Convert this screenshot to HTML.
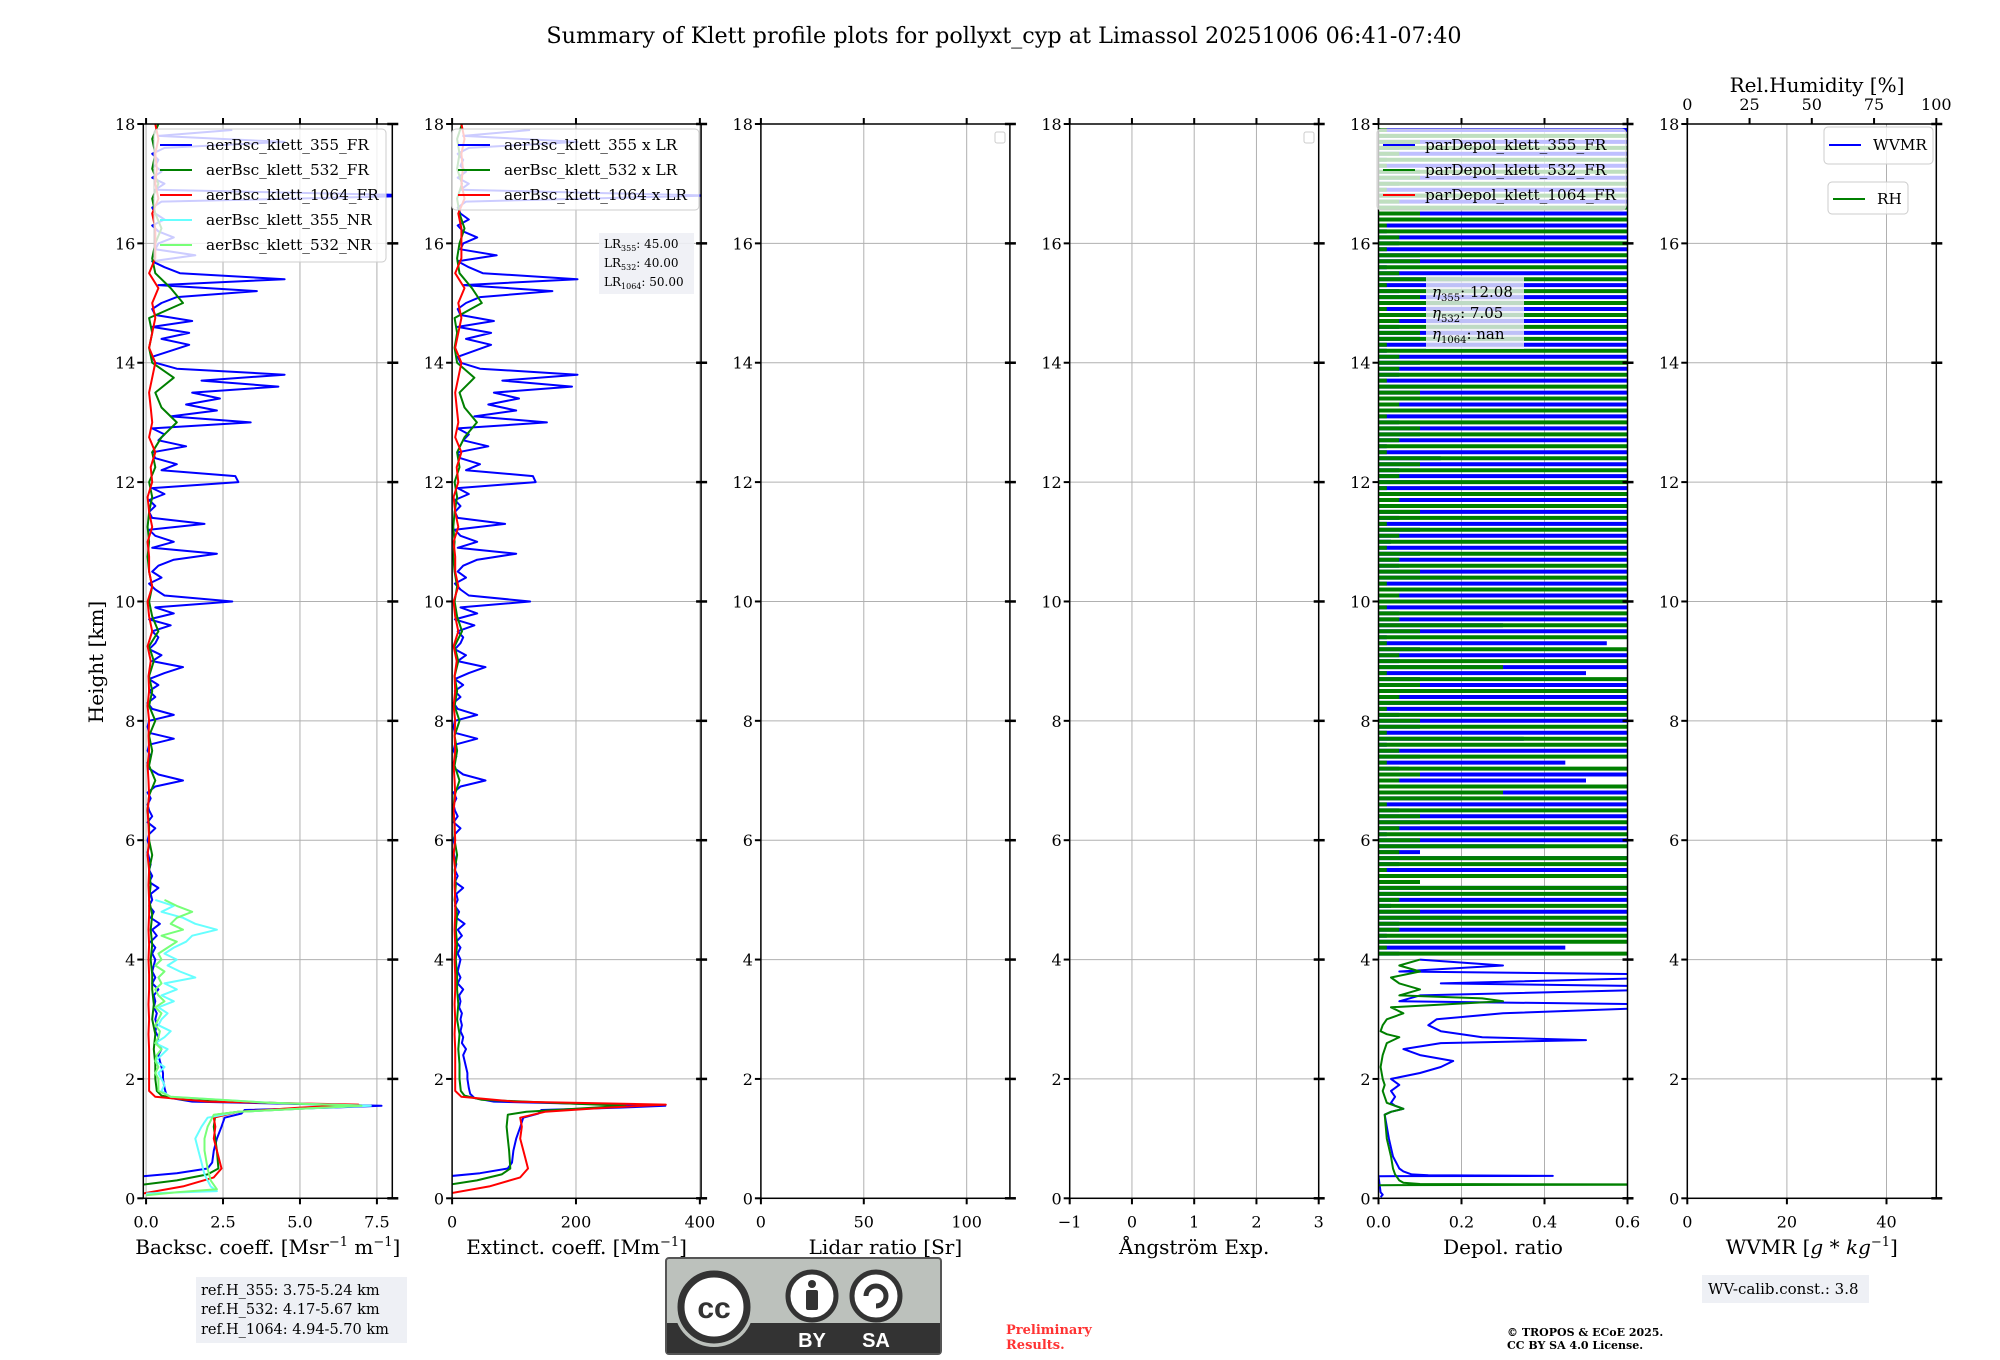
<!DOCTYPE html>
<html><head><meta charset="utf-8"><title>Klett profile summary</title>
<style>
html,body{margin:0;padding:0;background:#fff;}
svg{display:block;font-family:"DejaVu Serif","Liberation Serif",serif;}
</style></head>
<body>
<svg id="fig" width="2000" height="1360" viewBox="0 0 2000 1360" xmlns="http://www.w3.org/2000/svg">
<rect x="0" y="0" width="2000" height="1360" fill="#fff"/>
<text x="1004" y="43" font-size="22.3" text-anchor="middle">Summary of Klett profile plots for pollyxt_cyp at Limassol 20251006 06:41-07:40</text>
<text transform="translate(103,662) rotate(-90)" font-size="20" text-anchor="middle">Height [km]</text>
<g id="panels"></g>
<g id="overlay">
 <g>
  <rect x="154" y="129" width="232" height="133" rx="4" fill="#fff" fill-opacity="0.8" stroke="#ccc"/>
  <line x1="160" y1="145" x2="192" y2="145" stroke="#0000ff" stroke-width="2"/>
  <text x="206" y="150" font-size="15.3">aerBsc_klett_355_FR</text>
  <line x1="160" y1="170" x2="192" y2="170" stroke="#008000" stroke-width="2"/>
  <text x="206" y="175" font-size="15.3">aerBsc_klett_532_FR</text>
  <line x1="160" y1="195" x2="192" y2="195" stroke="#ff0000" stroke-width="2"/>
  <text x="206" y="200" font-size="15.3">aerBsc_klett_1064_FR</text>
  <line x1="160" y1="220" x2="192" y2="220" stroke="#66ffff" stroke-width="2"/>
  <text x="206" y="225" font-size="15.3">aerBsc_klett_355_NR</text>
  <line x1="160" y1="245" x2="192" y2="245" stroke="#77ff77" stroke-width="2"/>
  <text x="206" y="250" font-size="15.3">aerBsc_klett_532_NR</text>
 </g>
 <g>
  <rect x="452" y="129" width="247" height="81" rx="4" fill="#fff" fill-opacity="0.8" stroke="#ccc"/>
  <line x1="458" y1="145" x2="490" y2="145" stroke="#0000ff" stroke-width="2"/>
  <text x="504" y="150" font-size="15.3">aerBsc_klett_355 x LR</text>
  <line x1="458" y1="170" x2="490" y2="170" stroke="#008000" stroke-width="2"/>
  <text x="504" y="175" font-size="15.3">aerBsc_klett_532 x LR</text>
  <line x1="458" y1="195" x2="490" y2="195" stroke="#ff0000" stroke-width="2"/>
  <text x="504" y="200" font-size="15.3">aerBsc_klett_1064 x LR</text>
 </g>
 <g>
  <rect x="599" y="233" width="95" height="61" fill="#eef0f5" fill-opacity="0.9"/>
  <text x="604" y="248" font-size="12">LR<tspan font-size="8" dy="3">355</tspan><tspan dy="-3">: 45.00</tspan></text>
  <text x="604" y="267" font-size="12">LR<tspan font-size="8" dy="3">532</tspan><tspan dy="-3">: 40.00</tspan></text>
  <text x="604" y="286" font-size="12">LR<tspan font-size="8" dy="3">1064</tspan><tspan dy="-3">: 50.00</tspan></text>
 </g>
 <rect x="995" y="132" width="10" height="11" rx="2" fill="#fff" stroke="#ccc"/>
 <rect x="1304" y="132" width="10" height="11" rx="2" fill="#fff" stroke="#ccc"/>
 <g>
  <rect x="1377" y="129" width="249" height="81" rx="4" fill="#fff" fill-opacity="0.75" stroke="#ccc"/>
  <line x1="1383" y1="145" x2="1415" y2="145" stroke="#0000ff" stroke-width="2"/>
  <text x="1425" y="150" font-size="15.3">parDepol_klett_355_FR</text>
  <line x1="1383" y1="170" x2="1415" y2="170" stroke="#008000" stroke-width="2"/>
  <text x="1425" y="175" font-size="15.3">parDepol_klett_532_FR</text>
  <line x1="1383" y1="195" x2="1415" y2="195" stroke="#ff0000" stroke-width="2"/>
  <text x="1425" y="200" font-size="15.3">parDepol_klett_1064_FR</text>
 </g>
 <g>
  <rect x="1426" y="276" width="98" height="73" fill="#eef0f5" fill-opacity="0.8"/>
  <text x="1432" y="297" font-size="15"><tspan font-style="italic">η</tspan><tspan font-size="10" dy="4">355</tspan><tspan dy="-4">: 12.08</tspan></text>
  <text x="1432" y="318" font-size="15"><tspan font-style="italic">η</tspan><tspan font-size="10" dy="4">532</tspan><tspan dy="-4">: 7.05</tspan></text>
  <text x="1432" y="339" font-size="15"><tspan font-style="italic">η</tspan><tspan font-size="10" dy="4">1064</tspan><tspan dy="-4">: nan</tspan></text>
 </g>
 <g>
  <rect x="1824" y="127" width="109" height="37" rx="4" fill="#fff" fill-opacity="0.8" stroke="#ccc"/>
  <line x1="1829" y1="145" x2="1861" y2="145" stroke="#0000ff" stroke-width="2"/>
  <text x="1873" y="150" font-size="15.3">WVMR</text>
 </g>
 <g>
  <rect x="1828" y="182" width="80" height="32" rx="4" fill="#fff" fill-opacity="0.8" stroke="#ccc"/>
  <line x1="1833" y1="199" x2="1865" y2="199" stroke="#008000" stroke-width="2"/>
  <text x="1877" y="204" font-size="15.3">RH</text>
 </g>
 <text x="1817" y="92" font-size="20" text-anchor="middle">Rel.Humidity [%]</text>
 <g>
  <rect x="196" y="1277" width="211" height="66" fill="#eef0f5"/>
  <text x="201" y="1295" font-size="14.5">ref.H_355: 3.75-5.24 km</text>
  <text x="201" y="1314" font-size="14.5">ref.H_532: 4.17-5.67 km</text>
  <text x="201" y="1334" font-size="14.5">ref.H_1064: 4.94-5.70 km</text>
 </g>
 <g>
  <rect x="666" y="1258" width="275" height="96" rx="3" fill="#bcc1bc" stroke="#555" stroke-width="2"/>
  <rect x="667" y="1323" width="273" height="30" fill="#333"/>
  <circle cx="714" cy="1307" r="40" fill="#bcc1bc"/>
  <circle cx="714" cy="1307" r="33" fill="#fff" stroke="#333" stroke-width="7"/>
  <text x="714" y="1318" font-size="30" font-weight="bold" text-anchor="middle" fill="#333" font-family="Liberation Sans, sans-serif">cc</text>
  <circle cx="812" cy="1296" r="24" fill="#fff" stroke="#333" stroke-width="5"/>
  <circle cx="812" cy="1284" r="4" fill="#333"/>
  <rect x="806" y="1290" width="12" height="20" rx="2" fill="#333"/>
  <circle cx="876" cy="1296" r="24" fill="#fff" stroke="#333" stroke-width="5"/>
  <path d="M866,1296 A10,10 0 1 1 876,1306" fill="none" stroke="#333" stroke-width="5"/>
  <text x="812" y="1347" font-size="20" font-weight="bold" text-anchor="middle" fill="#fff" font-family="Liberation Sans, sans-serif">BY</text>
  <text x="876" y="1347" font-size="20" font-weight="bold" text-anchor="middle" fill="#fff" font-family="Liberation Sans, sans-serif">SA</text>
 </g>
 <text x="1006" y="1334" font-size="13" font-weight="bold" fill="#ff3333">Preliminary</text>
 <text x="1006" y="1349" font-size="13" font-weight="bold" fill="#ff3333">Results.</text>
 <g>
  <rect x="1702" y="1275" width="167" height="28" fill="#eef0f5"/>
  <text x="1708" y="1294" font-size="15">WV-calib.const.: 3.8</text>
 </g>
 <text x="1507" y="1336" font-size="11" font-weight="bold">© TROPOS &amp; ECoE 2025.</text>
 <text x="1507" y="1349" font-size="11" font-weight="bold">CC BY SA 4.0 License.</text>
</g>
</svg>
<script>
// ---------- data ----------
const lidarRatio355 = 45, lidarRatio532 = 40, lidarRatio1064 = 50;
const bsc355LowH = [0.37,0.42,0.5,0.6,0.8,1.0,1.2,1.35,1.42,1.48,1.52,1.55,1.58,1.62,1.68,1.75,1.85,2.0];
const bsc355LowV = [-0.1,1.0,2.0,2.15,2.2,2.3,2.45,2.55,3.1,3.2,6.0,7.65,5.0,1.5,0.8,0.65,0.6,0.55];
const bsc355High = [
0.55,0.5,0.45,0.4,0.5,0.35,0.4,0.3,0.35,0.3,
0.35,0.25,0.3,0.25,0.4,0.2,0.3,0.2,0.25,0.3,
0.2,0.3,0.15,0.35,0.2,0.45,0.15,0.25,0.1,0.2,
0.15,0.4,0.1,0.2,0.1,0.15,0.1,0.05,0.1,0.05,
0.1,0.3,0.05,0.2,0.1,0.05,0.15,0.05,0.3,1.2,
0.4,0.1,0.05,0.15,0.05,0.1,0.9,0.1,0.05,0.1,
0.9,0.2,0.05,0.3,0.1,0.4,0.1,0.6,1.2,0.2,
0.5,0.1,0.3,0.4,0.2,0.8,0.1,0.9,0.3,2.8,
0.6,0.3,0.1,0.5,0.2,0.4,0.9,2.3,0.2,0.9,
0.3,0.1,1.9,0.2,0.1,0.3,0.1,0.6,0.2,3.0,
2.9,0.5,1.0,0.3,0.2,1.3,0.4,0.6,0.2,3.4,
0.8,2.3,1.3,2.4,1.5,4.3,1.8,4.5,1.0,0.3,
0.2,0.8,1.4,0.5,1.4,0.2,1.5,0.3,0.2,0.5,
1.0,3.6,0.4,4.5,1.1,0.6,0.2,1.6,0.3,0.4,
0.9,0.4,0.2,0.6,0.3,0.2,0.5,9.2,0.3,0.6,
0.2,0.5,0.3,0.4,0.2,0.6,4.5,0.4,2.8,0.3];
const bsc532LowH = [0.23,0.3,0.4,0.5,0.8,1.0,1.2,1.4,1.45,1.5,1.55,1.6,1.65,1.72,1.8,2.0];
const bsc532LowV = [-0.1,1.0,2.0,2.35,2.3,2.25,2.2,2.25,3.0,5.0,7.0,4.0,1.2,0.5,0.35,0.3];
const bsc532High = [0.3,0.25,0.3,0.2,0.25,0.2,0.2,0.15, 0.2,0.15,0.2,0.1,0.15,0.1,0.2,0.1, 0.1,0.05,0.1,0.3,0.1,0.2,0.1,0.3,
 0.1,0.2,0.1,0.25,0.1,0.4,0.2,0.1, 0.2,0.1,0.05,0.1,0.05,0.1,0.2,0.1, 0.3,0.2,0.5,1.0,0.5,0.3,0.9,0.2,
 0.1,0.2,0.1,1.2,0.8,0.3,0.2,0.3, 0.5,0.3,0.2,0.4,0.2,0.3,0.2,0.4];
const bsc1064LowH = [0.08,0.2,0.35,0.5,0.7,1.0,1.2,1.35,1.45,1.52,1.57,1.62,1.7,1.8,2.0];
const bsc1064LowV = [-0.1,1.2,2.2,2.45,2.35,2.2,2.25,2.2,3.0,5.0,6.9,2.0,0.3,0.1,0.1];
const bsc1064High = [0.1,0.1,0.08,0.1,0.08,0.1,0.1,0.08, 0.1,0.08,0.1,0.1,0.08,0.1,0.05,0.1, 0.08,0.05,0.1,0.08,0.05,0.1,0.08,0.1,
 0.05,0.1,0.08,0.15,0.05,0.2,0.1,0.05, 0.2,0.1,0.1,0.05,0.2,0.1,0.05,0.2, 0.15,0.3,0.1,0.2,0.15,0.1,0.2,0.3,
 0.1,0.2,0.3,0.2,0.4,0.1,0.3,0.3, 0.3,0.2,0.4,0.3,0.35,0.3,0.4,0.3];
const bsc355NRLowH = [0.08,0.12,0.2,0.3,0.4,0.6,0.8,1.0,1.2,1.35,1.45,1.5,1.55,1.6,1.7,1.8,1.9,2.0];
const bsc355NRLowV = [0.0,2.3,2.1,2.0,1.9,1.8,1.7,1.6,1.8,2.0,3.0,5.0,7.3,4.0,0.8,0.5,0.6,0.5];
const bsc355NRHigh = [0.4,0.6,0.3,0.5,0.7,0.3,0.6,0.8,0.4,0.5, 0.7,0.4,0.9,0.5,1.0,0.6,1.6,1.1,0.7,1.0, 0.6,0.9,1.3,1.5,2.3,1.6,1.2,0.5,0.9,0.3];
const bsc532NRLowH = [0.05,0.1,0.15,0.3,0.5,0.8,1.0,1.2,1.3,1.4,1.45,1.5,1.55,1.6,1.7,1.8,2.0];
const bsc532NRLowV = [0.0,1.0,2.3,2.1,2.0,1.9,1.9,2.0,2.1,2.2,3.0,5.0,7.0,4.0,0.8,0.4,0.4];
const bsc532NRHigh = [0.3,0.4,0.3,0.35,0.5,0.3,0.4,0.45,0.3,0.4, 0.5,0.3,0.6,0.4,0.3,0.5,0.4,0.6,0.3,0.5, 0.4,0.7,1.0,0.5,1.2,0.8,1.0,1.5,1.0,0.6];
const dp355LowH = [0.02,0.06,0.1,0.37,0.375,0.385,0.4,0.45,0.5,0.7,1.0,1.4,1.45,1.5,1.55,1.6,1.7,1.8,1.9,2.0,2.1,2.2,2.3,2.4,2.5,2.6,2.65,2.7,2.8,2.9,3.0,3.1,3.2,3.25,3.3,3.4,3.5,3.55,3.6,3.7,3.75,3.8,3.9,4.0];
const dp355LowV = [0.005,0.01,0.005,0.0,0.42,0.12,0.08,0.06,0.05,0.035,0.025,0.015,0.03,0.06,0.04,0.03,0.04,0.03,0.05,0.03,0.1,0.15,0.18,0.1,0.06,0.15,0.5,0.25,0.15,0.12,0.14,0.3,0.7,0.65,0.05,0.1,0.7,0.7,0.15,0.7,0.7,0.05,0.3,0.1];
const dp355High = [
0.05,0.45,0.1,0.02,0.7,0.05,0.2,0.7,0.03,0.6, 0.1,0.7,0.02,0.3,0.8,0.05,0.7,0.1,0.4,0.8,
0.02,0.7,0.1,0.8,0.05,0.6,0.2,0.75,0.02,0.5, 0.7,0.05,0.45,0.1,0.8,0.02,0.35,0.7,0.1,0.8,
0.05,0.7,0.2,0.6,0.02,0.8,0.1,0.5,0.75,0.05, 0.7,0.1,0.55,0.02,0.8,0.3,0.7,0.05,0.6,0.1,
0.8,0.02,0.7,0.2,0.75,0.05,0.6,0.1,0.8,0.03, 0.7,0.1,0.8,0.05,0.65,0.2,0.8,0.02,0.7,0.1,
0.8,0.05,0.7,0.15,0.8,0.02,0.75,0.1,0.7,0.05, 0.8,0.1,0.7,0.02,0.8,0.2,0.7,0.05,0.8,0.1,
0.75,0.02,0.8,0.1,0.7,0.05,0.8,0.02,0.7,0.1, 0.8,0.05,0.7,0.2,0.8,0.02,0.7,0.1,0.8,0.05,
0.7,0.02,0.8,0.1,0.75,0.05,0.8,0.2,0.7,0.05, 0.8,0.1,0.7,0.02,0.8,0.05,0.75,0.1,0.8,0.05];
const dp532LowH = [0.2,0.22,0.23,0.24,0.26,0.3,0.4,0.5,0.7,1.0,1.4,1.45,1.5,1.55,1.6,1.7,1.8,1.9,2.0,2.2,2.4,2.6,2.7,2.75,2.8,2.9,3.0,3.1,3.2,3.3,3.35,3.4,3.5,3.6,3.7,3.8,3.9,4.0];
const dp532LowV = [0.0,0.0,0.8,0.1,0.06,0.05,0.04,0.035,0.03,0.02,0.015,0.03,0.06,0.04,0.02,0.015,0.01,0.015,0.01,0.005,0.01,0.02,0.05,0.02,0.005,0.01,0.02,0.06,0.03,0.3,0.25,0.05,0.1,0.05,0.03,0.1,0.05,0.1];
const dp532High = [
0.7,0.02,0.8,0.6,0.05,0.8,0.7,0.1,0.8,0.05, 0.75,0.6,0.1,0.8,0.02,0.7,0.8,0.05,0.7,0.1,
0.8,0.05,0.75,0.1,0.8,0.02,0.7,0.3,0.8,0.05, 0.1,0.8,0.02,0.7,0.05,0.8,0.7,0.02,0.8,0.1,
0.8,0.02,0.7,0.05,0.8,0.1,0.7,0.02,0.3,0.8, 0.05,0.8,0.02,0.7,0.1,0.8,0.05,0.7,0.02,0.8,
0.05,0.8,0.02,0.75,0.1,0.8,0.05,0.7,0.02,0.8, 0.05,0.7,0.02,0.8,0.1,0.7,0.05,0.8,0.02,0.7,
0.05,0.8,0.1,0.7,0.02,0.8,0.05,0.7,0.1,0.8, 0.02,0.7,0.05,0.8,0.1,0.7,0.02,0.8,0.05,0.7,
0.05,0.7,0.02,0.8,0.1,0.7,0.05,0.8,0.02,0.7, 0.1,0.8,0.02,0.7,0.05,0.8,0.1,0.7,0.02,0.8,
0.05,0.7,0.02,0.8,0.1,0.7,0.05,0.8,0.02,0.7, 0.1,0.8,0.02,0.7,0.05,0.8,0.1,0.7,0.02,0.8];
const heightTicks = [0,2,4,6,8,10,12,14,16,18];
const bscTicks = ['0.0','2.5','5.0','7.5'];
const extTicks = ['0','200','400'];
const lrTicks = ['0','50','100'];
const aeTicks = ['−1','0','1','2','3'];
const dpTicks = ['0.0','0.2','0.4','0.6'];
const wvTicks = ['0','20','40'];
const rhTicks = ['0','25','50','75','100'];

// ---------- helpers ----------
const NS = 'http://www.w3.org/2000/svg';
const L0 = 143.3, DX = 308.8, PW = 249, YT = 124, YB = 1198.3, HMAX = 18;
function add(parent, tag, attrs, name) {
  const el = document.createElementNS(NS, tag);
  for (const k in attrs) el.setAttribute(k, attrs[k]);
  
  
  parent.appendChild(el);
  return el;
}
function yOf(h) { return YB - h / HMAX * (YB - YT); }
function grid(start, step, n) { const a = []; for (let i = 0; i < n; i++) a.push(+(start + step * i).toFixed(2)); return a; }
const hHigh01 = grid(2.1, 0.1, 159);
const hHigh025 = grid(2.25, 0.25, 64);
const hNR01 = grid(2.1, 0.1, 30);
const hDp01 = grid(4.1, 0.1, 139);

const panels = [
  {name:'backscatter', xmin:-0.09, xmax:8.0, ticks:[0,2.5,5,7.5], labels:bscTicks, title:'Backsc. coeff. [Msr<tspan dy="-8" font-size="13">−1</tspan><tspan dy="8"> m</tspan><tspan dy="-8" font-size="13">−1</tspan><tspan dy="8">]</tspan>'},
  {name:'extinction', xmin:0, xmax:402, ticks:[0,200,400], labels:extTicks, title:'Extinct. coeff. [Mm<tspan dy="-8" font-size="13">−1</tspan><tspan dy="8">]</tspan>'},
  {name:'lidar-ratio', xmin:0, xmax:121, ticks:[0,50,100], labels:lrTicks, title:'Lidar ratio [Sr]'},
  {name:'angstrom', xmin:-1, xmax:3, ticks:[-1,0,1,2,3], labels:aeTicks, title:'Ångström Exp.'},
  {name:'depol', xmin:0, xmax:0.6, ticks:[0,0.2,0.4,0.6], labels:dpTicks, title:'Depol. ratio'},
  {name:'wvmr', xmin:0, xmax:50, ticks:[0,20,40], labels:wvTicks, title:'WVMR [<tspan font-style="italic">g</tspan> * <tspan font-style="italic">kg</tspan><tspan dy="-8" font-size="13">−1</tspan><tspan dy="8">]</tspan>'}
];

const root = document.getElementById('panels');
const defs = add(root, 'defs', {}, 'clip-defs');
const P = panels.map((p, i) => {
  const left = L0 + DX * i, right = left + PW;
  const x = v => left + (v - p.xmin) / (p.xmax - p.xmin) * PW;
  const g = add(root, 'g', {}, 'panel-' + p.name);
  const cp = add(defs, 'clipPath', {id:'clip' + i}, 'clip-' + p.name);
  add(cp, 'rect', {x:left, y:YT, width:PW, height:YB - YT}, 'clip-rect');
  p.ticks.forEach(t => add(g, 'line', {x1:x(t), x2:x(t), y1:YT, y2:YB, stroke:'#b0b0b0', 'stroke-width':1}, 'x-gridline'));
  heightTicks.forEach(h => add(g, 'line', {x1:left, x2:right, y1:yOf(h), y2:yOf(h), stroke:'#b0b0b0', 'stroke-width':1}, 'y-gridline'));
  const data = add(g, 'g', {'clip-path':'url(#clip' + i + ')'}, 'plot-area-' + p.name);
  return {p, g, data, x, left, right};
});

function pathFrom(xf, hs, vs) {
  let d = '';
  for (let i = 0; i < hs.length; i++) {
    d += (i ? 'L' : 'M') + xf(vs[i]).toFixed(1) + ',' + yOf(hs[i]).toFixed(1);
  }
  return d;
}
function series(panel, hs, vs, color, name, width) {
  add(panel.data, 'path', {d:pathFrom(panel.x, hs, vs), fill:'none', stroke:color, 'stroke-width':width || 2, 'stroke-linejoin':'round'}, name);
}
function bars(panel, hs, vs, color, name) {
  let d = '';
  for (let i = 0; i < hs.length; i++) {
    const yy = yOf(hs[i]).toFixed(1);
    d += 'M' + panel.x(0).toFixed(1) + ',' + yy + 'L' + panel.x(vs[i]).toFixed(1) + ',' + yy;
  }
  add(panel.data, 'path', {d:d, fill:'none', stroke:color, 'stroke-width':4}, name);
}
const cat = (a, b) => a.concat(b);
const h355 = cat(bsc355LowH, hHigh01), v355 = cat(bsc355LowV, bsc355High);
const h532 = cat(bsc532LowH, hHigh025), v532 = cat(bsc532LowV, bsc532High);
const h1064 = cat(bsc1064LowH, hHigh025), v1064 = cat(bsc1064LowV, bsc1064High);

series(P[0], h355, v355, '#0000ff', 'line-bsc-355-fr');
series(P[0], h532, v532, '#008000', 'line-bsc-532-fr');
series(P[0], h1064, v1064, '#ff0000', 'line-bsc-1064-fr');
series(P[0], cat(bsc355NRLowH, hNR01), cat(bsc355NRLowV, bsc355NRHigh), '#66ffff', 'line-bsc-355-nr');
series(P[0], cat(bsc532NRLowH, hNR01), cat(bsc532NRLowV, bsc532NRHigh), '#77ff77', 'line-bsc-532-nr');
series(P[1], h355, v355.map(v => v * lidarRatio355), '#0000ff', 'line-ext-355');
series(P[1], h532, v532.map(v => v * lidarRatio532), '#008000', 'line-ext-532');
series(P[1], h1064, v1064.map(v => v * lidarRatio1064), '#ff0000', 'line-ext-1064');
series(P[4], dp355LowH, dp355LowV, '#0000ff', 'line-depol-355-low');
series(P[4], dp532LowH, dp532LowV, '#008000', 'line-depol-532-low');
bars(P[4], hDp01, dp355High, '#0000ff', 'line-depol-355-high');
bars(P[4], hDp01, dp532High, '#008000', 'line-depol-532-high');

P.forEach((o, i) => {
  const {p, g, x, left, right} = o;
  const ax = add(g, 'g', {}, 'axes-' + p.name);
  add(ax, 'rect', {x:left, y:YT, width:PW, height:YB - YT, fill:'none', stroke:'#000', 'stroke-width':1.5}, 'axes-frame');
  heightTicks.forEach(h => {
    const yy = yOf(h);
    add(ax, 'line', {x1:left - 6, x2:left, y1:yy, y2:yy, stroke:'#000', 'stroke-width':2}, 'y-tick-left');
    add(ax, 'line', {x1:right - 5, x2:right + 6, y1:yy, y2:yy, stroke:'#000', 'stroke-width':2.5}, 'y-tick-right');
    const t = add(ax, 'text', {x:left - 8, y:yy + 6, 'font-size':16, 'text-anchor':'end'}, 'y-tick-label');
    t.textContent = String(h);
  });
  p.ticks.forEach((tv, k) => {
    const xx = x(tv);
    add(ax, 'line', {x1:xx, x2:xx, y1:YB, y2:YB + 6, stroke:'#000', 'stroke-width':2}, 'x-tick');
    if (i !== 5) add(ax, 'line', {x1:xx, x2:xx, y1:YT - 6, y2:YT, stroke:'#000', 'stroke-width':2}, 'x-tick-top');
    const t = add(ax, 'text', {x:xx, y:YB + 29, 'font-size':16, 'text-anchor':'middle'}, 'x-tick-label');
    t.textContent = p.labels[k];
  });
  const tl = add(ax, 'text', {x:(left + right) / 2, y:1254, 'font-size':20, 'text-anchor':'middle'}, 'x-axis-title-' + p.name);
  tl.innerHTML = p.title;
});
(function(){
  const o = P[5];
  const xr = v => o.left + v / 100 * PW;
  const ax = add(o.g, 'g', {}, 'rh-top-axis');
  [0,25,50,75,100].forEach((v, k) => {
    add(ax, 'line', {x1:xr(v), x2:xr(v), y1:YT - 6, y2:YT, stroke:'#000', 'stroke-width':2}, 'rh-tick');
    const t = add(ax, 'text', {x:xr(v), y:110, 'font-size':16, 'text-anchor':'middle'}, 'rh-tick-label');
    t.textContent = rhTicks[k];
  });
})();
</script>
</body></html>
